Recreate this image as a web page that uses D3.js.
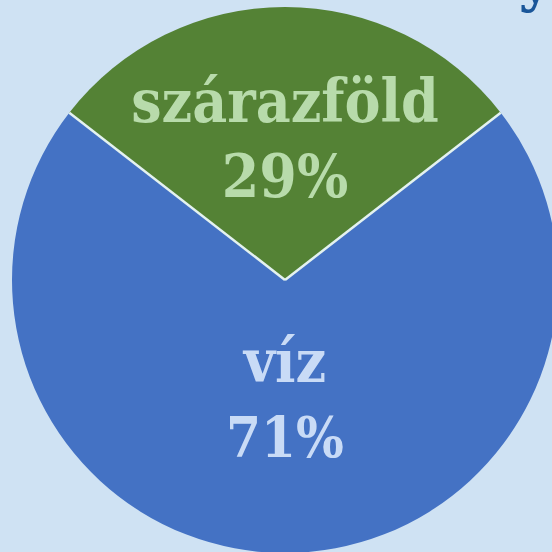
<!DOCTYPE html>
<html lang="hu">
<head>
  <meta charset="UTF-8">
  <title>Föld felszíne</title>
  <script src="https://d3js.org/d3.v7.min.js"></script>
  <style>
    body { margin: 0; background: #cfe2f3; }
    svg { display: block; }
    .label { font-family: "DejaVu Serif", serif; font-weight: bold; font-stretch: condensed; text-anchor: middle; }
  </style>
</head>
<body>
  <svg id="chart" width="552" height="552"></svg>
  <script>
    // data
    const categories = ["szárazföld", "víz"];
    const values = [29, 71];
    const colors = ["#548235", "#4472c4"];
    const textColors = ["#b8dbab", "#c9dbf6"];

    const svg = d3.select("#chart");
    const cx = 285, cy = 280, radius = 273;

    const data = categories.map((c, i) => ({ name: c, value: values[i] }));

    // green slice centred on the top
    const half = Math.PI * values[0] / 100;
    const pie = d3.pie().sort(null).value(d => d.value)
      .startAngle(-half).endAngle(2 * Math.PI - half);
    const arc = d3.arc().innerRadius(0).outerRadius(radius);
    const arcs = pie(data);

    const g = svg.append("g").attr("transform", `translate(${cx},${cy})`);

    g.selectAll("path")
      .data(arcs)
      .enter().append("path")
      .attr("d", arc)
      .attr("fill", (d, i) => colors[i]);

    // light separator lines, only on the radii
    g.selectAll("line.sep")
      .data(arcs)
      .enter().append("line")
      .attr("class", "sep")
      .attr("x1", 0).attr("y1", 0)
      .attr("x2", d => d3.pointRadial(d.startAngle, radius)[0])
      .attr("y2", d => d3.pointRadial(d.startAngle, radius)[1])
      .attr("stroke", "#e4f2f0")
      .attr("stroke-width", 2.5);

    // labels (baselines, relative to centre)
    const nameY = [122 - cy, 382 - cy];
    const pctY = [197 - cy, 457 - cy];
    data.forEach((d, i) => {
      g.append("text").attr("class", "label")
        .attr("x", 0).attr("y", nameY[i])
        .attr("fill", textColors[i])
        .style("font-size", "60px")
        .text(d.name);
      g.append("text").attr("class", "label")
        .attr("x", 0).attr("y", pctY[i])
        .attr("fill", textColors[i])
        .style("font-size", i === 0 ? "60px" : "56px")
        .text(d.value + "%");
    });

    // title, cut off at top edge as in the original
    svg.append("text").attr("class", "label")
      .attr("x", 535).attr("y", -1)
      .attr("fill", "#1a5699")
      .style("font-size", "62px")
      .text("y");
  </script>
</body>
</html>
